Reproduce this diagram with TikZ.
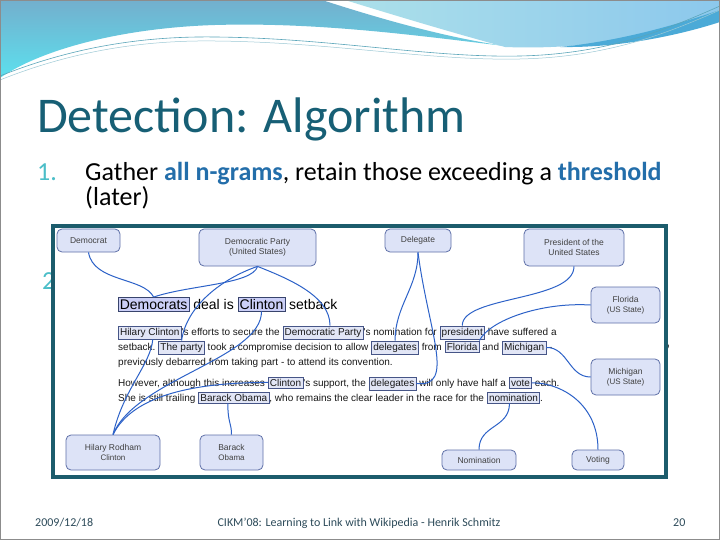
\documentclass[tikz,border=0pt]{standalone}
\usepackage{fontspec}
\setmainfont{Carlito}
\newfontfamily\figfont{Liberation Sans}
\usetikzlibrary{calc}
\newcommand\wsp{\kern.278em}
\definecolor{titlec}{RGB}{23,95,117}
\definecolor{numc}{RGB}{75,190,200}
\definecolor{kwc}{RGB}{35,110,170}
\definecolor{framec}{RGB}{28,92,108}
\definecolor{nodefill}{RGB}{221,227,247}
\definecolor{nodedraw}{RGB}{95,112,168}
\definecolor{linkfill}{RGB}{226,230,246}
\definecolor{linkdraw}{RGB}{70,85,135}
\definecolor{connc}{RGB}{45,98,200}
\definecolor{footc}{RGB}{45,75,90}
\definecolor{wavea}{RGB}{115,175,205}
\definecolor{waveb}{RGB}{92,224,238}
\definecolor{wavec}{RGB}{172,224,234}
\definecolor{waved}{RGB}{140,200,236}
\definecolor{wavee}{RGB}{75,170,215}
\definecolor{waveline}{RGB}{90,165,185}
\tikzset{
  concept/.style={draw=nodedraw, fill=nodefill, rounded corners=5pt, line width=0.8pt,
    font=\figfont\fontsize{8.5}{10}\selectfont, text=black!75, align=center, inner sep=0pt},
  pt/.style={inner sep=0pt, anchor=base west, font=\figfont\fontsize{10}{12}\selectfont, text=black!90},
  lk/.style={pt, draw=linkdraw, fill=linkfill, inner xsep=1.8pt, inner ysep=2pt, line width=0.5pt},
  hpt/.style={inner sep=0pt, anchor=base west, font=\figfont\fontsize{14}{16}\selectfont, text=black},
  hlk/.style={hpt, draw=linkdraw!80!black, fill=linkfill!90!blue, inner xsep=1.5pt, inner ysep=2pt, line width=0.6pt},
  cn/.style={draw=connc, line width=1pt},
  slidetext/.style={inner sep=0pt, anchor=base west, font=\fontsize{26}{30}\selectfont},
  foot/.style={inner sep=0pt, font=\fontsize{12}{14}\selectfont, text=footc}
}
\begin{document}
\begin{tikzpicture}[x=1pt, y=-1pt]
\useasboundingbox (0,0) rectangle (720,540);
\fill[white] (0,0) rectangle (720,540);
% header waves
\shade[top color=wavea, bottom color=waveb] (0,0) -- (322,0) .. controls (390,22) and (450,38) .. (505,46) .. controls (420,36) and (320,22) .. (215,25) .. controls (120,28) and (40,50) .. (0,78) -- cycle;
\shade[left color=wavec, right color=waved] (345,0) -- (720,0) -- (720,18) .. controls (650,38) and (580,50) .. (505,47) .. controls (450,32) and (390,14) .. (345,0) -- cycle;
\fill[wavee] (560,47) .. controls (630,40) and (690,20) .. (720,10) -- (720,22) .. controls (680,35) and (620,48) .. (560,47) -- cycle;
\draw[waveline, line width=0.6pt] (0,76) .. controls (70,48) and (140,36) .. (215,37) .. controls (330,38) and (430,58) .. (520,56) .. controls (610,54) and (670,28) .. (720,6);
\draw[waveline!60, line width=0.5pt] (0,80) .. controls (70,52) and (140,40) .. (215,41) .. controls (330,42) and (430,61) .. (520,59) .. controls (610,57) and (670,32) .. (720,10);
% title and bullets
\node[inner sep=0pt, anchor=base west, font=\fontsize{50}{60}\selectfont, text=titlec] (title) at (37,133) {Detection: Algorithm};
\node[slidetext, text=numc] (n1) at (37,181) {1.};
\node[slidetext] (b1) at (85,181) {Gather \textbf{\color{kwc}all n-grams}, retain those exceeding a \textbf{\color{kwc}threshold}};
\node[slidetext] (b1b) at (85,206) {(later)};
\node[slidetext, text=numc] (n2) at (42,289) {2.};
\node[slidetext] (comma) at (664,347) {,};
% figure frame
\draw[framec, line width=4pt, fill=white] (53,226) rectangle (666,477);
% concept nodes
\node[concept, minimum width=63pt, minimum height=23pt] (democrat) at (88.5,240.5) {Democrat};
\node[concept, minimum width=117pt, minimum height=37pt] (dparty) at (257.5,247.5) {Democratic Party\\(United States)};
\node[concept, minimum width=66pt, minimum height=23pt] (delegate) at (418,240.5) {Delegate};
\node[concept, minimum width=100pt, minimum height=37pt] (potus) at (574,247.5) {President of the\\United States};
\node[concept, minimum width=69pt, minimum height=36pt] (florida) at (625.5,305) {Florida\\{\fontsize{8}{10}\selectfont(US State)}};
\node[concept, minimum width=69pt, minimum height=36pt] (michigan) at (625.5,377) {Michigan\\{\fontsize{8}{10}\selectfont(US State)}};
\node[concept, minimum width=94pt, minimum height=35pt] (hrc) at (113,452.5) {Hilary Rodham\\{\fontsize{8}{10}\selectfont Clinton}};
\node[concept, minimum width=63pt, minimum height=35pt] (obama) at (231.5,452.5) {Barack\\{\fontsize{8}{10}\selectfont Obama}};
\node[concept, minimum width=74pt, minimum height=20pt] (nomination) at (479,460) {Nomination};
\node[concept, minimum width=52pt, minimum height=20pt] (voting) at (598,460) {Voting};
% headline
\node[hlk] (hdem) at (118,309) {Democrats};
\node[hpt] (h1) at (hdem.base east) {\wsp deal is\wsp};
\node[hlk] (hcl) at (h1.base east) {Clinton};
\node[hpt] (h2) at (hcl.base east) {\wsp setback};
% line 1
\node[lk] (hc1) at (118,335) {Hilary Clinton};
\node[pt] (t11) at (hc1.base east) {'s efforts to secure the\wsp};
\node[lk] (dp1) at (t11.base east) {Democratic Party};
\node[pt] (t12) at (dp1.base east) {'s nomination for\wsp};
\node[lk] (pr1) at (t12.base east) {president};
\node[pt] (t13) at (pr1.base east) {\wsp have suffered a};
% line 2
\node[pt] (t21) at (118,350) {setback.\wsp};
\node[lk] (tp2) at (t21.base east) {The party};
\node[pt] (t22) at (tp2.base east) {\wsp took a compromise decision to allow\wsp};
\node[lk] (dl2) at (t22.base east) {delegates};
\node[pt] (t23) at (dl2.base east) {\wsp from\wsp};
\node[lk] (fl2) at (t23.base east) {Florida};
\node[pt] (t24) at (fl2.base east) {\wsp and\wsp};
\node[lk] (mi2) at (t24.base east) {Michigan};
\node[pt] (t25) at (mi2.base east) {\wsp-};
% line 3
\node[pt] (t31) at (118,365) {previously debarred from taking part - to attend its convention.};
% line 4
\node[pt] (t41) at (118,386) {However, although this increases\wsp};
\node[lk] (cl4) at (t41.base east) {Clinton};
\node[pt] (t42) at (cl4.base east) {'s support, the\wsp};
\node[lk] (dl4) at (t42.base east) {delegates};
\node[pt] (t43) at (dl4.base east) {\wsp will only have half a\wsp};
\node[lk] (vo4) at (t43.base east) {vote};
\node[pt] (t44) at (vo4.base east) {\wsp each.};
% line 5
\node[pt] (t51) at (118,401) {She is still trailing\wsp};
\node[lk] (bo5) at (t51.base east) {Barack Obama};
\node[pt] (t52) at (bo5.base east) {, who remains the clear leader in the race for the\wsp};
\node[lk] (no5) at (t52.base east) {nomination};
\node[pt] (t53) at (no5.base east) {.};
% connectors
\draw[cn] (democrat.south) .. controls +(5,30) and +(-10,-20) .. (hdem.north);
\draw[cn] (dparty.south) .. controls +(-5,18) and +(35,-12) .. (hdem.north);
\draw[cn] (dparty.south) .. controls +(-35,12) and +(5,-35) .. (tp2.north);
\draw[cn] (dparty.south) .. controls +(30,12) and +(0,-30) .. ([xshift=7pt]dp1.north);
\draw[cn] (delegate.south) .. controls +(0,35) and +(0,-35) .. (dl2.north);
\draw[cn] (delegate.south) .. controls +(10,78) and +(40,5) .. (dl4.east);
\draw[cn] (potus.south) .. controls +(0,35) and +(0,-30) .. (pr1.north);
\draw[cn] (florida.west) .. controls +(-50,-3) and +(10,-20) .. (fl2.north east);
\draw[cn] (michigan.west) .. controls +(-22,0) and +(22,0) .. (mi2.east);
\draw[cn] (voting.north) .. controls +(0,-45) and +(30,0) .. (vo4.east);
\draw[cn] (nomination.north) .. controls +(0,-25) and +(0,25) .. ([xshift=-4pt]no5.south);
\draw[cn] (hrc.north) .. controls +(10,-45) and +(-2,25) .. ([xshift=3pt]hc1.south);
\draw[cn] (hrc.north) .. controls +(22,-55) and +(0,47) .. (hcl.south);
\draw[cn] (hrc.north) .. controls +(20,-40) and +(-72,0) .. (cl4.west);
\draw[cn] ([xshift=-6pt]bo5.south) .. controls +(0,20) and +(0,-12) .. (obama.north);
% footer
\node[foot, anchor=base west] (date) at (35,526) {2009/12/18};
\node[foot, anchor=base] (conf) at (359,526) {CIKM'08: Learning to Link with Wikipedia - Henrik Schmitz};
\node[foot, anchor=base west] (page) at (673,526) {20};
\draw[black!45, line width=0.8pt] (0.5,0.5) rectangle (719.5,539.5);
\end{tikzpicture}
\end{document}
